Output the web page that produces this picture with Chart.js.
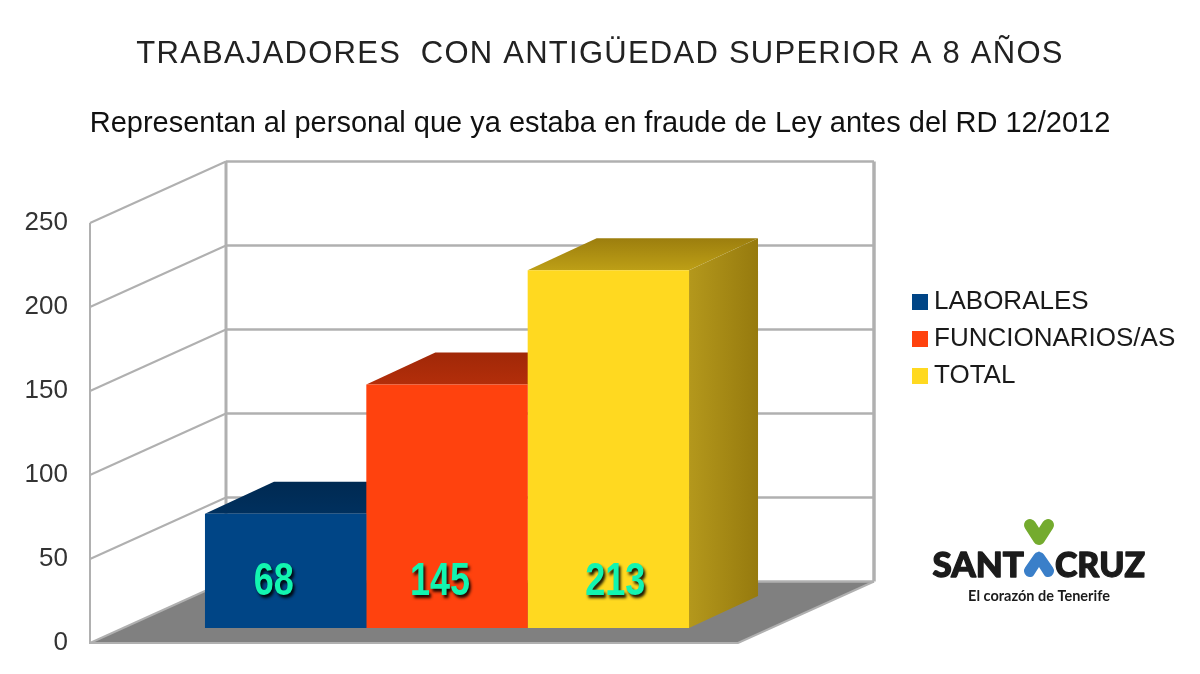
<!DOCTYPE html>
<html><head><meta charset="utf-8">
<style>html,body{margin:0;padding:0;background:#fff}#wrap{width:1200px;height:674px}canvas{display:block}</style>
<script src="https://cdn.jsdelivr.net/npm/chart.js@4"></script>
</head><body><div id="wrap"><canvas id="c" width="1200" height="674"></canvas></div>
<script>
const categories = [''];
const seriesNames = ['LABORALES', 'FUNCIONARIOS/AS', 'TOTAL'];
const laborales = [68];
const funcionarios = [145];
const total = [213];
const yTicks = [0, 50, 100, 150, 200, 250];
const titleText = 'TRABAJADORES  CON ANTIGÜEDAD SUPERIOR A 8 AÑOS';
const subtitleText = 'Representan al personal que ya estaba en fraude de Ley antes del RD 12/2012';

const frontColors = ['#004586', '#ff420e', '#ffd920'];
const topShades = [['#00305e', '#002a52'], ['#b32e0a', '#a02808'], ['#bd9f16', '#9c7e0e']];
const sideShades = [['#003366', '#002a52'], ['#b5380c', '#952a08'], ['#b4981c', '#967a0e']];
const labelNudge = [-12, -7, 7];
const WALL = {dx: 136, dy: -61.5};
const BAR = {dx: 33, dy: -15, depthX: 69, depthY: -32};
const GRID = '#b0b0b0';

const scene = {
  id: 'scene',
  afterLayout(chart) {
    const lg = chart.legend, p = lg.options.labels.padding;
    const w = lg.width, h = lg.height;
    lg.left = 919 - p; lg.right = lg.left + w;
    lg.top = 289 - p; lg.bottom = lg.top + h;
    chart.boxes.forEach(b => {
      if (b.options && typeof b.options.text === 'string') {
        b.left = 0; b.right = chart.width; b.width = chart.width;
        if (b.options.text === titleText && !b._spaced) {
          const draw = b.draw.bind(b);
          b.draw = (...args) => {
            chart.ctx.letterSpacing = '1.25px';
            draw(...args);
            chart.ctx.letterSpacing = '0px';
          };
          b._spaced = true;
        }
      }
    });
  },
  beforeDatasetsDraw(chart) {
    const {ctx, scales: {x, y}} = chart;
    const L = x.left, R = x.right, Y0 = y.getPixelForValue(yTicks[0]);
    const Ytop = y.getPixelForValue(yTicks[yTicks.length - 1]);
    const bx = L + WALL.dx, brx = R + WALL.dx;
    ctx.save();
    // floor
    ctx.fillStyle = '#808080';
    ctx.beginPath();
    ctx.moveTo(L, Y0); ctx.lineTo(bx, Y0 + WALL.dy); ctx.lineTo(brx, Y0 + WALL.dy); ctx.lineTo(R, Y0);
    ctx.closePath(); ctx.fill();
    // walls
    ctx.strokeStyle = GRID;
    yTicks.forEach(v => {
      const py = y.getPixelForValue(v);
      ctx.lineWidth = 2;
      ctx.beginPath(); ctx.moveTo(L, py); ctx.lineTo(bx, py + WALL.dy); ctx.stroke();
      ctx.lineWidth = 2.5;
      ctx.beginPath(); ctx.moveTo(bx, py + WALL.dy); ctx.lineTo(brx, py + WALL.dy); ctx.stroke();
    });
    ctx.lineWidth = 2;
    ctx.beginPath(); ctx.moveTo(L, Ytop); ctx.lineTo(L, Y0); ctx.lineTo(R, Y0); ctx.lineTo(brx, Y0 + WALL.dy); ctx.stroke();
    ctx.lineWidth = 3;
    ctx.beginPath(); ctx.moveTo(bx, Ytop + WALL.dy); ctx.lineTo(bx, Y0 + WALL.dy); ctx.stroke();
    ctx.lineWidth = 3.5;
    ctx.beginPath(); ctx.moveTo(brx, Ytop + WALL.dy); ctx.lineTo(brx, Y0 + WALL.dy); ctx.stroke();
    // top and side faces, left to right
    chart.data.datasets.forEach((ds, i) => {
      const el = chart.getDatasetMeta(i).data[0];
      const l = el.x - el.width / 2 + BAR.dx, r = el.x + el.width / 2 + BAR.dx;
      const t = el.y + BAR.dy, b = el.base + BAR.dy;
      const dx = BAR.depthX, dy = BAR.depthY;
      let g = ctx.createLinearGradient(0, t, 0, t + dy);
      g.addColorStop(0, topShades[i][0]); g.addColorStop(1, topShades[i][1]);
      ctx.fillStyle = g;
      ctx.beginPath();
      ctx.moveTo(l, t); ctx.lineTo(l + dx, t + dy); ctx.lineTo(r + dx, t + dy); ctx.lineTo(r, t);
      ctx.closePath(); ctx.fill();
      g = ctx.createLinearGradient(r, 0, r + dx, 0);
      g.addColorStop(0, sideShades[i][0]); g.addColorStop(1, sideShades[i][1]);
      ctx.fillStyle = g;
      ctx.beginPath();
      ctx.moveTo(r, t); ctx.lineTo(r + dx, t + dy); ctx.lineTo(r + dx, b + dy); ctx.lineTo(r, b);
      ctx.closePath(); ctx.fill();
    });
    ctx.restore();
    ctx.save();
    ctx.translate(BAR.dx, BAR.dy);
  },
  afterDatasetsDraw(chart) {
    const {ctx} = chart;
    ctx.restore();
    // value labels on the front faces
    chart.data.datasets.forEach((ds, i) => {
      const el = chart.getDatasetMeta(i).data[0];
      const cx = el.x + BAR.dx + labelNudge[i];
      const cy = chart.scales.y.getPixelForValue(0) - 61;
      ctx.save();
      ctx.translate(cx, cy);
      ctx.scale(1, 1.27);
      ctx.font = 'bold 36px "Liberation Sans"';
      ctx.textAlign = 'center';
      ctx.textBaseline = 'middle';
      ctx.shadowColor = 'rgba(0,0,0,0.9)';
      ctx.shadowOffsetX = 2; ctx.shadowOffsetY = 3; ctx.shadowBlur = 3;
      ctx.fillStyle = '#12f5b0';
      ctx.fillText(String(ds.data[0]), 0, 0);
      ctx.restore();
    });
  },
  afterDraw(chart) {
    const {ctx} = chart;
    ctx.save();
    ctx.lineCap = 'round'; ctx.lineJoin = 'round';
    // green heart
    ctx.strokeStyle = '#74ab2e'; ctx.lineWidth = 12;
    ctx.beginPath(); ctx.moveTo(1030, 525); ctx.lineTo(1039, 539); ctx.lineTo(1048, 525); ctx.stroke();
    // blue heart
    ctx.strokeStyle = '#3a7fc9'; ctx.lineWidth = 12;
    ctx.beginPath(); ctx.moveTo(1030, 571); ctx.lineTo(1039, 558); ctx.lineTo(1048, 571); ctx.stroke();
    ctx.fillStyle = '#3a7fc9';
    ctx.beginPath(); ctx.moveTo(1039, 551); ctx.lineTo(1027, 570); ctx.lineTo(1051, 570); ctx.closePath(); ctx.fill();
    ctx.fillStyle = '#fff';
    ctx.beginPath(); ctx.moveTo(1039, 567); ctx.lineTo(1032, 578); ctx.lineTo(1046, 578); ctx.closePath(); ctx.fill();
    // wordmark
    ctx.fillStyle = '#1b1b1b';
    ctx.strokeStyle = '#1b1b1b'; ctx.lineWidth = 1.3;
    ctx.textBaseline = 'alphabetic';
    ctx.font = '900 35px Lato';
    ctx.textAlign = 'right';
    ctx.fillText('SANT', 1024, 577, 92); ctx.strokeText('SANT', 1024, 577, 92);
    ctx.textAlign = 'left';
    ctx.fillText('CRUZ', 1055, 577, 90); ctx.strokeText('CRUZ', 1055, 577, 90);
    ctx.textAlign = 'center';
    ctx.font = '700 14.5px Lato';
    ctx.fillText('El corazón de Tenerife', 1039, 601, 146);
    ctx.restore();
  }
};

new Chart(document.getElementById('c'), {
  type: 'bar',
  data: {
    labels: categories,
    datasets: [
      {label: seriesNames[0], data: laborales, backgroundColor: frontColors[0]},
      {label: seriesNames[1], data: funcionarios, backgroundColor: frontColors[1]},
      {label: seriesNames[2], data: total, backgroundColor: frontColors[2]}
    ]
  },
  options: {
    responsive: false,
    animation: false,
    devicePixelRatio: 1,
    layout: {padding: {left: 0, right: 462, top: 0, bottom: 31}},
    datasets: {bar: {categoryPercentage: 0.747, barPercentage: 1, clip: false}},
    plugins: {
      title: {display: true, text: titleText, color: '#222',
        font: {family: '"Liberation Sans"', size: 31, weight: 'normal'},
        padding: {top: 35.5, bottom: 17.3}},
      subtitle: {display: true, text: subtitleText, color: '#111',
        font: {family: '"Liberation Sans"', size: 29, weight: 'normal'},
        padding: {top: 16.6, bottom: 81.6}},
      legend: {position: 'chartArea', align: 'start',
        labels: {usePointStyle: true, pointStyle: 'rect', boxWidth: 2, boxHeight: 16, padding: 11,
          color: '#1a1a1a', font: {family: '"Liberation Sans"', size: 26}}},
      tooltip: {enabled: false}
    },
    scales: {
      x: {display: false},
      y: {min: 0, max: 250,
        afterFit(s) { s.width = 90; s.paddingTop = 0; s.paddingBottom = 0; },
        afterBuildTicks(s) { s.ticks = yTicks.map(v => ({value: v})); },
        grid: {display: false, drawTicks: false}, border: {display: false},
        ticks: {padding: 22, color: '#333', font: {family: '"Liberation Sans"', size: 26}}}
    }
  },
  plugins: [scene]
});
</script></body></html>
